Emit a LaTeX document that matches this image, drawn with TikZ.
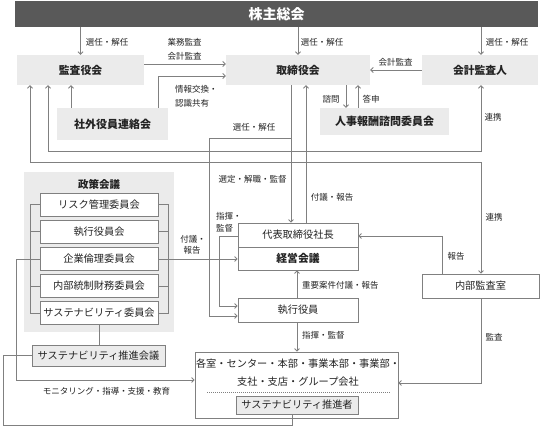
\documentclass[tikz,border=0pt]{standalone}
\usepackage{fontspec}
\setmainfont{Noto Sans CJK JP}
\usetikzlibrary{arrows.meta}
\definecolor{ln}{RGB}{128,128,128}
\definecolor{boxg}{RGB}{235,235,235}
\definecolor{ban}{RGB}{89,89,89}
\definecolor{txt}{RGB}{35,35,35}
\tikzset{
 gbox/.style={fill=boxg, draw=none, inner sep=0pt, font=\fontsize{10.8}{12}\selectfont\bfseries, text=txt},
 wbox/.style={fill=white, draw=ln, line width=0.8pt, inner sep=0pt, font=\fontsize{10.2}{12}\selectfont, text=txt},
 gwbox/.style={wbox, fill=boxg},
 lbl/.style={font=\fontsize{8.5}{10}\selectfont, text=txt, inner sep=0pt},
 txt10/.style={font=\fontsize{10.2}{12}\selectfont, text=txt, inner sep=0pt},
 conn/.style={draw=ln, line width=0.8pt},
 arr/.style={conn, -{Straight Barb[length=2.5pt,width=5pt]}},
 arrb/.style={conn, {Straight Barb[length=2.5pt,width=5pt]}-{Straight Barb[length=2.5pt,width=5pt]}},
}
\begin{document}
\begin{tikzpicture}[x=1pt,y=-1pt]
\useasboundingbox (0,0) rectangle (541,428);
% banner
\node[fill=ban, minimum width=523pt, minimum height=26pt, inner sep=0pt, text=white, font=\fontsize{14}{16}\selectfont\bfseries] (ban) at (276.5,14) {株主総会};
% top row
\node[gbox, minimum width=127pt, minimum height=30pt] (kansa) at (80.5,70) {監査役会};
\node[gbox, minimum width=144pt, minimum height=30pt] (tori) at (298,70) {取締役会};
\node[gbox, minimum width=116pt, minimum height=30pt] (kaikei) at (480,70) {会計監査人};
\node[gbox, minimum width=111pt, minimum height=32pt, font=\fontsize{11}{12}\selectfont\bfseries] (sha) at (112.5,124) {社外役員連絡会};
\node[gbox, minimum width=129pt, minimum height=27pt, font=\fontsize{11}{12}\selectfont\bfseries] (jinji) at (384.5,121.5) {人事報酬諮問委員会};
% policy panel
\node[fill=boxg, minimum width=150pt, minimum height=160pt, inner sep=0pt] (panel) at (99,252) {};
\node[inner sep=0pt, font=\fontsize{10.5}{12}\selectfont\bfseries, text=txt] (ptitle) at (99,184) {政策会議};
\coordinate (bl) at (30,0);
\coordinate (br) at (168,0);
% committee boxes
\node[wbox, minimum width=118pt, minimum height=23pt] (c1) at (99,204.5) {リスク管理委員会};
\node[wbox, minimum width=118pt, minimum height=23pt] (c2) at (99,231.5) {執行役員会};
\node[wbox, minimum width=118pt, minimum height=23pt] (c3) at (99,259) {企業倫理委員会};
\node[wbox, minimum width=118pt, minimum height=23pt] (c4) at (99,286) {内部統制財務委員会};
\node[wbox, minimum width=118pt, minimum height=23pt] (c5) at (99,313) {サステナビリティ委員会};
% brackets
\draw[conn] (c1.west) -- (c1.west -| bl) -- (c5.west -| bl) -- (c5.west);
\draw[conn] (c2.west) -- (c2.west -| bl);
\draw[conn] (c3.west) -- (c3.west -| bl);
\draw[conn] (c4.west) -- (c4.west -| bl);
\draw[conn] (c1.east) -- (c1.east -| br) -- (c5.east -| br) -- (c5.east);
\draw[conn] (c2.east) -- (c2.east -| br);
\draw[conn] (c3.east) -- (c3.east -| br);
\draw[conn] (c4.east) -- (c4.east -| br);
% sustainability council
\node[gwbox, minimum width=133pt, minimum height=21pt] (suk) at (98.5,355.5) {サステナビリティ推進会議};
\draw[conn] (c5.south) -- (c5.south |- suk.north);
% president / management
\node[wbox, minimum width=120pt, minimum height=24pt] (pres) at (298,235) {代表取締役社長};
\node[wbox, minimum width=120pt, minimum height=23pt, font=\fontsize{10.8}{12}\selectfont\bfseries] (keiei) at (298,258.5) {経営会議};
\node[wbox, minimum width=120pt, minimum height=24pt] (shikko) at (298,310) {執行役員};
% divisions
\node[wbox, minimum width=203pt, minimum height=66pt] (kaks) at (296.5,385) {};
\node[txt10] (kt1) at (298,364) {各室・センター・本部・事業本部・事業部・};
\node[txt10] (kt2) at (298,382) {支社・支店・グループ会社};
\draw[ln, line width=0.7pt, dash pattern=on 1pt off 1pt] (207,392) -- (390,392);
\node[gwbox, minimum width=122pt, minimum height=18pt] (sha2) at (297,405) {サステナビリティ推進者};
% internal audit
\node[wbox, minimum width=117pt, minimum height=24pt] (naibu) at (480.5,286) {内部監査室};

% connectors from banner
\draw[arr] (kansa.north |- ban.south) -- (kansa.north);
\draw[arr] (tori.north |- ban.south) -- (tori.north);
\draw[arr] (481,0 |- ban.south) -- (481,0 |- kaikei.north);
\node[lbl] (l1) at (107,42) {選任・解任};
\node[lbl] (l2) at (322,42) {選任・解任};
\node[lbl] (l3) at (507,42) {選任・解任};
% kansa -> tori
\draw[arr] (kansa.east |- 0,64) -- (tori.west |- 0,64);
\node[lbl] (l4) at (184.5,42) {業務監査};
\node[lbl] (l5) at (184.5,56) {会計監査};
% sha -> tori
\draw[arr] (158,0 |- sha.north) -- (158,76) -- (tori.west |- 0,76);
\node[lbl, anchor=west] (l6) at (175,89) {情報交換・};
\node[lbl, anchor=west] (l7) at (175,103) {認識共有};
% sha -> kansa
\draw[arr] (71,0 |- sha.north) -- (71,0 |- kansa.south);
% kaikei -> tori
\draw[arr] (kaikei.west) -- (tori.east);
\node[lbl] (l8) at (395.5,62) {会計監査};
% tori <-> jinji
\draw[arr] (346,0 |- tori.south) -- (346,0 |- jinji.north);
\draw[arr] (358,0 |- jinji.north) -- (358,0 |- tori.south);
\node[lbl] (l9) at (331,99) {諮問};
\node[lbl] (l10) at (371,99) {答申};
% renkei loops
\draw[arrb] (48,0 |- kansa.south) -- (48,151) -- (481,151) -- (481,0 |- kaikei.south);
\draw[arrb] (30,0 |- kansa.south) -- (30,162) -- (481,162) -- (481,0 |- naibu.north);
\node[lbl] (l11) at (493,117) {連携};
\node[lbl] (l12) at (494,217) {連携};
% tori -> pres / shikko
\draw[arr] (291,0 |- tori.south) -- (291,0 |- pres.north);
\draw[arr] (291,138) -- (209,138) -- (209,316) -- (shikko.west |- 0,316);
\node[lbl] (l13) at (254,127) {選任・解任};
\node[lbl] (l14) at (252.5,179) {選定・解職・監督};
% pres -> tori
\draw[arr] (306,0 |- pres.north) -- (306,0 |- tori.south);
\node[lbl] (l15) at (332,197) {付議・報告};
% pres -> shikko
\draw[arr] (pres.west |- 0,236) -- (219,236) -- (219,306) -- (shikko.west |- 0,306);
\node[lbl, anchor=west] (l16) at (216,216) {指揮・};
\node[lbl, anchor=west] (l17) at (216,228) {監督};
% c3 -> keiei
\draw[arr] (c3.east) -- (c3.east -| keiei.west);
\node[lbl] (l18) at (193,239) {付議・};
\node[lbl] (l19) at (192,250) {報告};
% shikko -> keiei, shikko -> kaks
\draw[arr] (297,0 |- shikko.north) -- (297,0 |- keiei.south);
\node[lbl, anchor=west] (l20) at (302,285) {重要案件付議・報告};
\draw[arr] (297,0 |- shikko.south) -- (297,0 |- kaks.north);
\node[lbl, anchor=west] (l21) at (302,335) {指揮・監督};
% naibu -> pres, naibu -> kaks
\draw[arr] (442,0 |- naibu.north) -- (442,236) -- (pres.east |- 0,236);
\node[lbl] (l22) at (456,256) {報告};
\draw[arr] (481,0 |- naibu.south) -- (481,383) -- (kaks.east |- 0,383);
\node[lbl] (l23) at (494,337) {監査};
% c3 -> kaks monitoring
\draw[arr] (c3.west -| bl) -- (16,0 |- c3.west) -- (16,380) -- (kaks.west |- 0,380);
\node[lbl] (l24) at (106.5,391) {モニタリング・指導・支援・教育};
% sustainability loop
\draw[conn] (292,0 |- sha2.south) -- (292,425) -- (3,425) -- (3,0 |- suk.west) -- (suk.west);
\end{tikzpicture}
\end{document}
